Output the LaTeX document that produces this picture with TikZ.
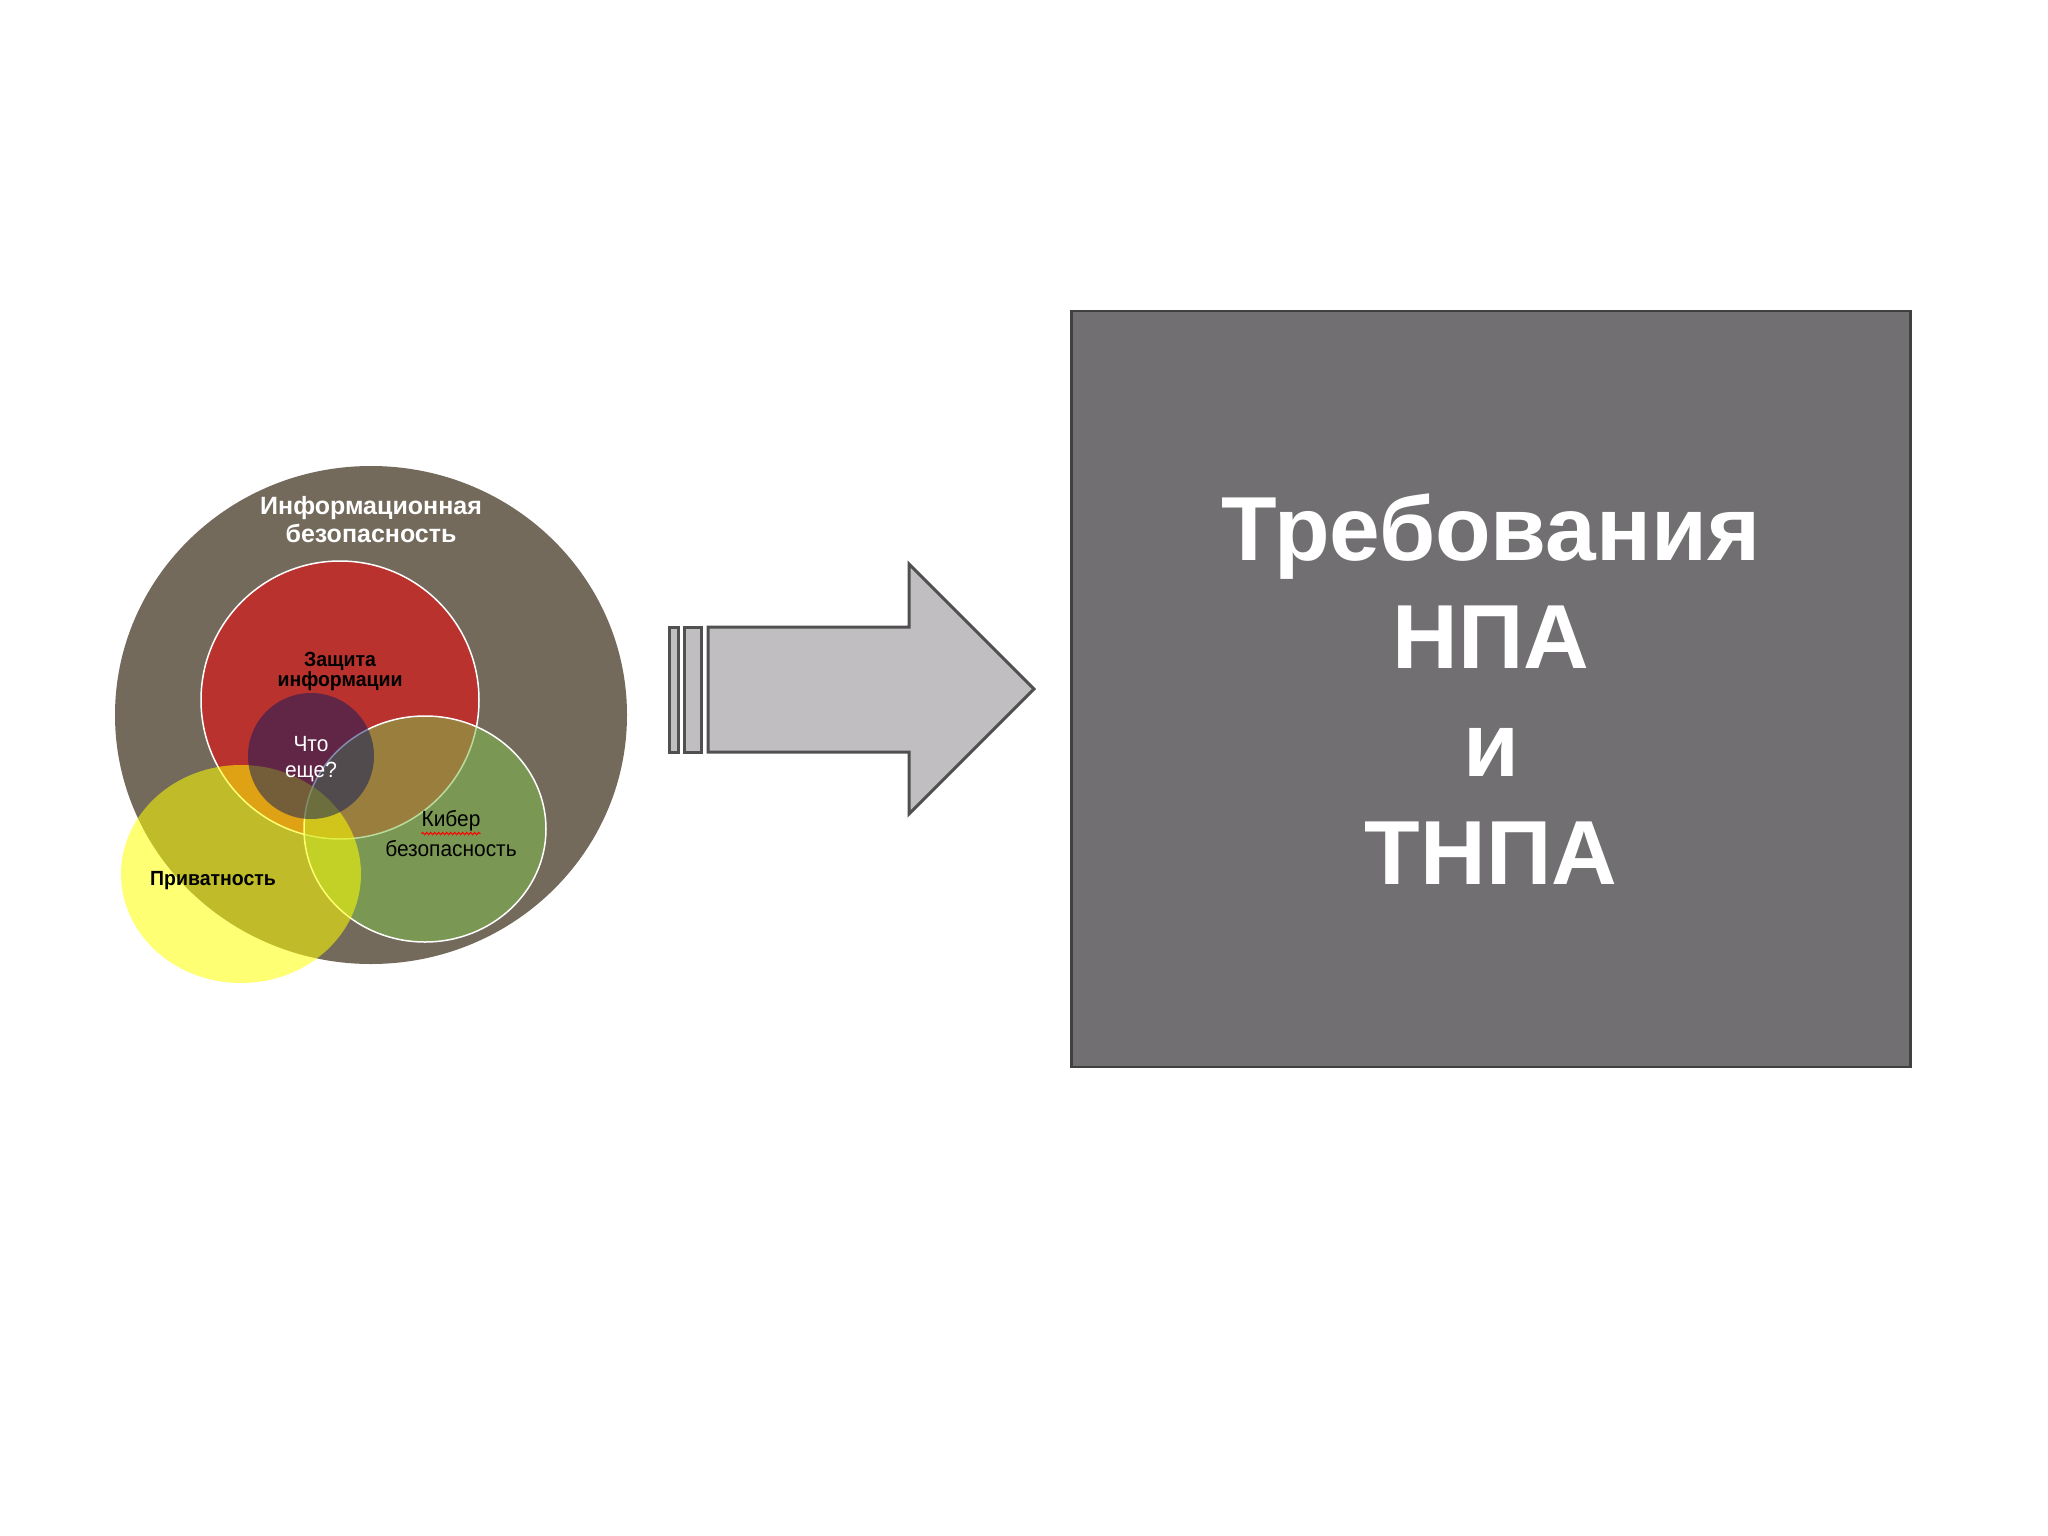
\documentclass[tikz,border=0pt]{standalone}
\usepackage{fontspec}
\setmainfont{Liberation Sans}
\newfontfamily\narrowsans{Liberation Sans}[FakeStretch=0.95]
\usetikzlibrary{decorations.pathmorphing}
\definecolor{infosec}{RGB}{115,106,92}
\definecolor{protect}{RGB}{186,50,46}
\definecolor{cyber}{RGB}{129,190,76}
\definecolor{privacy}{RGB}{255,255,0}
\definecolor{whatelse}{RGB}{10,25,95}
\definecolor{arrowfill}{RGB}{192,190,192}
\definecolor{arrowline}{RGB}{80,80,80}
\definecolor{reqfill}{RGB}{113,111,114}
\definecolor{reqline}{RGB}{64,64,64}
\tikzset{
  venn/.style={draw=white, line width=1.5pt},
  vennlabel/.style={align=center, inner sep=0pt},
  arrowpart/.style={fill=arrowfill, draw=arrowline, line width=3pt, line join=miter},
}
\begin{document}
\begin{tikzpicture}[x=1pt, y=-1pt]
\useasboundingbox[fill=white] (0,0) rectangle (2048,1536);
\fill[infosec] (371,715) circle [x radius=256pt, y radius=249pt];
\draw[venn, fill=protect] (340,700) circle [radius=139pt];
\draw[venn, fill=cyber, fill opacity=0.55] (425,829) circle [x radius=121pt, y radius=113pt];
\fill[privacy, fill opacity=0.55] (241,874) circle [x radius=120pt, y radius=109pt];
\fill[whatelse, fill opacity=0.5] (311,756) circle [radius=63pt];
\node[vennlabel, text=white, font=\fontsize{25}{28}\selectfont\bfseries] (infolabel) at (371,520) {Информационная\\безопасность};
\node[vennlabel, font=\fontsize{20.5}{18}\narrowsans\bfseries] (protectlabel) at (340,671) {Защита\\информации};
\node[vennlabel, text=white, font=\fontsize{22}{26}\narrowsans] (elselabel) at (311,759) {Что\\еще?};
\node[vennlabel, font=\fontsize{22}{24}\narrowsans] (cyberword) at (451,821) {Кибер};
\node[vennlabel, font=\fontsize{22}{24}\narrowsans] (cyberlabel) at (451,849) {безопасность};
\node[vennlabel, font=\fontsize{20.5}{24}\narrowsans\bfseries] (privlabel) at (213,881) {Приватность};
\draw[red, line width=1pt, decorate, decoration={snake, amplitude=1.2pt, segment length=4pt}] ([yshift=-2pt]cyberword.south west) -- ([yshift=-2pt]cyberword.south east);
\draw[arrowpart] (669,627) rectangle (678,752);
\draw[arrowpart] (684,627) rectangle (701,752);
\draw[arrowpart] (708,627) -- (909,627) -- (909,564) -- (1034,689) -- (909,814) -- (909,752) -- (708,752) -- cycle;
\node[draw=reqline, fill=reqfill, line width=2.5pt, minimum width=839pt, minimum height=756pt, text=white, align=center, font=\fontsize{91}{108}\selectfont\bfseries] (req) at (1491,689) {Требования\\НПА\\и\\ТНПА};
\end{tikzpicture}
\end{document}
